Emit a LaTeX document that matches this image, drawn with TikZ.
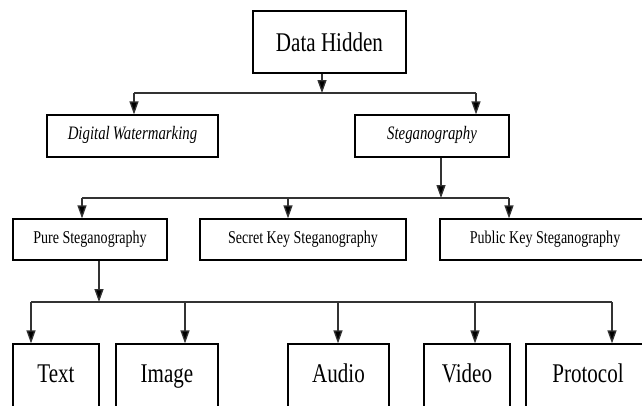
\documentclass[tikz,border=0pt]{standalone}
\usepackage{fontspec}
\setmainfont{Liberation Serif}[FakeStretch=0.78]
\usetikzlibrary{arrows.meta}
\begin{document}
\begin{tikzpicture}[x=1pt,y=-1pt,
  box/.style={draw=black,line width=1.2pt,inner sep=0pt,fill=white},
  bigtext/.style={font=\fontsize{27}{30}\selectfont},
  midtext/.style={font=\fontsize{18}{20}\selectfont},
  ittext/.style={font=\fontsize{19}{21}\selectfont\itshape},
  conn/.style={draw=black!80,line width=1.3pt},
  arr/.style={conn,-{Triangle[length=13pt,width=9pt,fill=black]}}
]
\useasboundingbox (0,0) rectangle (642,405);
\fill[white] (0,0) rectangle (642,405);
\clip (0,0) rectangle (642,405);

% top
\node[box,bigtext,minimum width=153pt,minimum height=62pt] (DH) at (329.5,42) {Data Hidden};
% level 1
\node[box,ittext,minimum width=171pt,minimum height=42pt,text height=13pt,text depth=7pt] (DW) at (132.5,136) {Digital\,Watermarking};
\node[box,ittext,minimum width=154pt,minimum height=42pt,text height=13pt,text depth=7pt] (SG) at (432,136) {Steganography};
% level 2
\node[box,midtext,minimum width=154pt,minimum height=41pt] (PS) at (90,239.5) {Pure Steganography};
\node[box,midtext,minimum width=206pt,minimum height=41pt] (SK) at (303,239.5) {Secret Key Steganography};
\node[box,midtext,minimum width=210pt,minimum height=41pt] (PK) at (545,239.5) {Public Key Steganography\hspace{6pt}};
% level 3 (cut by the bottom edge)
\tikzset{low/.style={box,bigtext,minimum height=86pt,text height=10pt,text depth=20pt}}
\node[low,minimum width=86pt] (TX) at (56,387) {Text};
\node[low,minimum width=102pt] (IM) at (167,387) {Image};
\node[low,minimum width=101pt] (AU) at (338.5,387) {Audio};
\node[low,minimum width=86pt] (VI) at (467,387) {Video};
\node[low,minimum width=124pt] (PR) at (588,387) {Protocol\hspace{4pt}};

% connectors level 0 -> 1
\coordinate (j1) at (322,93);
\coordinate (b1l) at (134,93);
\coordinate (b1r) at (476,93);
\draw[arr] (j1 |- DH.south) -- (j1);
\draw[conn] (b1l) -- (b1r);
\draw[arr] (b1l) -- (b1l |- DW.north);
\draw[arr] (b1r) -- (b1r |- SG.north);

% connectors level 1 -> 2
\coordinate (j2) at (441,198);
\coordinate (b2l) at (82,198);
\coordinate (b2m) at (288,198);
\coordinate (b2r) at (509,198);
\draw[arr] (j2 |- SG.south) -- (j2);
\draw[conn] (b2l) -- (b2r);
\draw[arr] (b2l) -- (b2l |- PS.north);
\draw[arr] (b2m) -- (b2m |- SK.north);
\draw[arr] (b2r) -- (b2r |- PK.north);

% connectors level 2 -> 3
\coordinate (j3) at (99,302);
\coordinate (b3a) at (31,302);
\coordinate (b3b) at (185,302);
\coordinate (b3c) at (338,302);
\coordinate (b3d) at (475,302);
\coordinate (b3e) at (612,302);
\draw[arr] (j3 |- PS.south) -- (j3);
\draw[conn] (b3a) -- (b3e);
\draw[arr] (b3a) -- (b3a |- TX.north);
\draw[arr] (b3b) -- (b3b |- IM.north);
\draw[arr] (b3c) -- (b3c |- AU.north);
\draw[arr] (b3d) -- (b3d |- VI.north);
\draw[arr] (b3e) -- (b3e |- PR.north);
\end{tikzpicture}
\end{document}
